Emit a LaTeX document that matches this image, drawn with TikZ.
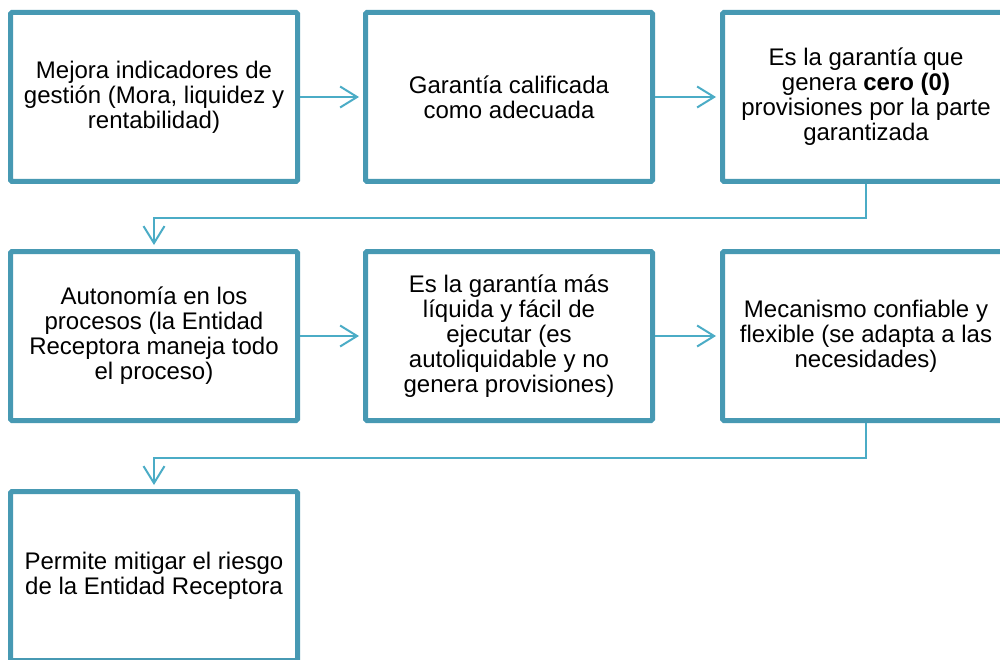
\documentclass[tikz,border=0pt]{standalone}
\usepackage{fontspec}
\setmainfont{Liberation Sans}
\usetikzlibrary{arrows.meta}
\definecolor{borde}{HTML}{4799B3}
\definecolor{flecha}{HTML}{4BACC6}
\begin{document}
\begin{tikzpicture}[x=1pt,y=-1pt,
    caja/.style={draw=borde,line width=5pt,rounded corners=1.5pt,shape=rectangle,
      minimum width=287pt,minimum height=169pt,align=center,inner sep=0pt,
      font=\fontsize{24}{25}\selectfont},
    enlace/.style={draw=flecha,line width=2pt,shorten >=4pt,
      -{Straight Barb[length=17pt,width=21pt,line width=2pt]}}]
      \clip (0,0) rectangle (1000,660);
      \useasboundingbox (0,0) rectangle (1000,660);

      \path (154,97) node[caja] (1)  {Mejora indicadores de\\gestión (Mora, liquidez y\\rentabilidad)};
      \path (509,97) node[caja] (2)  {Garantía calificada\\como adecuada};
      \path (866,97) node[caja] (3)  {Es la garantía que\\genera \textbf{cero (0)}\\provisiones por la parte\\garantizada};
      \path (154,336) node[caja] (4)  {Autonomía en los\\procesos (la Entidad\\Receptora maneja todo\\el proceso)};
      \path (509,336) node[caja] (5)  {Es la garantía más\\líquida y fácil de\\ejecutar (es\\autoliquidable y no\\genera provisiones)};
      \path (866,336) node[caja] (6)  {Mecanismo confiable y\\flexible (se adapta a las\\necesidades)};
      \path (154,576) node[caja] (7)  {Permite mitigar el riesgo\\de la Entidad Receptora};

      \draw[enlace] (1) -- (2);
      \draw[enlace] (2) -- (3);
      \draw[enlace] (3.south) -- ++(0,34.5) -| (4.north);
      \draw[enlace] (4) -- (5);
      \draw[enlace] (5) -- (6);
      \draw[enlace] (6.south) -- ++(0,34.5) -| (7.north);
   \end{tikzpicture}
\end{document}
